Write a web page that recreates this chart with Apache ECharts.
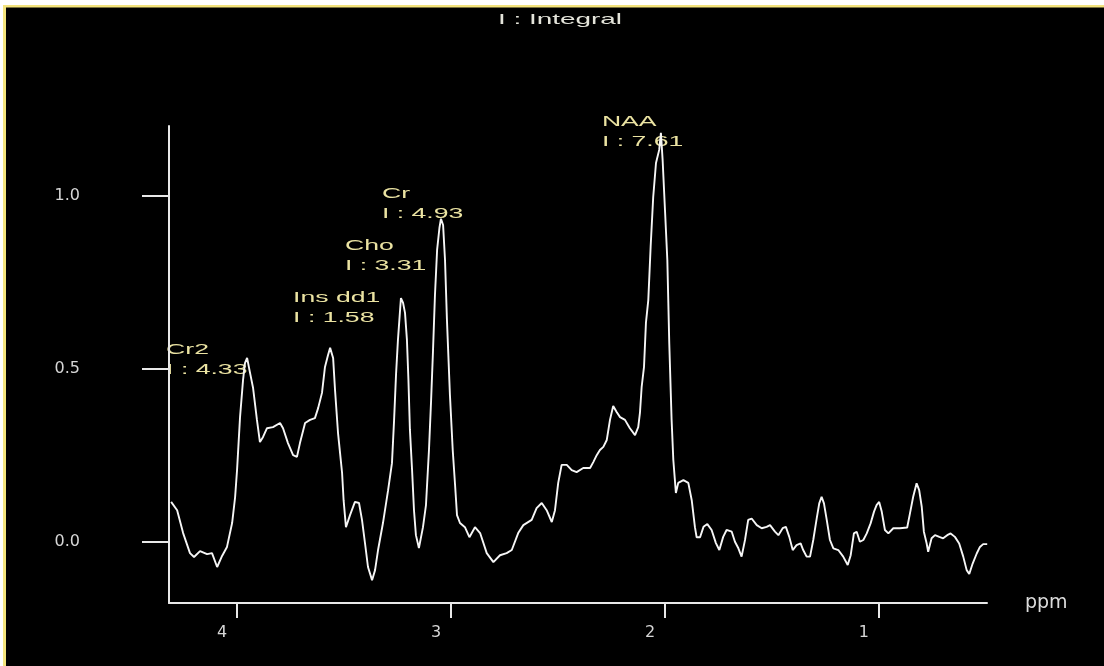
<!DOCTYPE html>
<html>
<head>
<meta charset="utf-8">
<title>MR spectrum</title>
<script src="https://cdn.jsdelivr.net/npm/echarts@6/dist/echarts.min.js"></script>
<style>
  html, body { margin: 0; padding: 0; background: #000; }
  #chart { width: 1104px; height: 666px; }
</style>
</head>
<body>
<div id="chart"></div>
<script>
// Chemical shift of each sample (ppm, descending)
const ppm = [
  4.308, 4.280, 4.252, 4.220, 4.201, 4.173, 4.140, 4.117, 4.093, 4.070,
  4.047, 4.023, 4.009, 4.000, 3.986, 3.972, 3.963, 3.953, 3.939, 3.925,
  3.907, 3.893, 3.879, 3.860, 3.832, 3.799, 3.785, 3.762, 3.738, 3.720,
  3.706, 3.682, 3.659, 3.636, 3.621, 3.603, 3.589, 3.575, 3.565, 3.551,
  3.542, 3.528, 3.509, 3.502, 3.491, 3.472, 3.449, 3.430, 3.416, 3.402,
  3.388, 3.369, 3.355, 3.341, 3.318, 3.294, 3.276, 3.266, 3.257, 3.248,
  3.238, 3.234, 3.224, 3.215, 3.206, 3.199, 3.192, 3.182, 3.173, 3.164,
  3.150, 3.131, 3.117, 3.103, 3.093, 3.084, 3.075, 3.065, 3.054, 3.047,
  3.037, 3.028, 3.019, 3.005, 2.992, 2.981, 2.972, 2.958, 2.935, 2.914,
  2.888, 2.864, 2.833, 2.802, 2.771, 2.740, 2.716, 2.686, 2.662, 2.623,
  2.600, 2.576, 2.553, 2.529, 2.514, 2.499, 2.483, 2.459, 2.436, 2.413,
  2.382, 2.350, 2.335, 2.319, 2.304, 2.288, 2.272, 2.257, 2.242, 2.226,
  2.210, 2.187, 2.164, 2.140, 2.125, 2.117, 2.109, 2.098, 2.089, 2.078,
  2.067, 2.055, 2.042, 2.027, 2.019, 2.011, 2.000, 1.989, 1.980, 1.969,
  1.961, 1.949, 1.938, 1.914, 1.891, 1.875, 1.860, 1.852, 1.836,
  1.820, 1.802, 1.782, 1.762, 1.746, 1.728, 1.712, 1.688, 1.673, 1.657,
  1.642, 1.626, 1.611, 1.595, 1.571, 1.548, 1.525, 1.509, 1.486, 1.470,
  1.450, 1.435, 1.419, 1.403, 1.385, 1.366, 1.354, 1.338, 1.322, 1.307,
  1.291, 1.279, 1.268, 1.257, 1.244, 1.229, 1.213, 1.190, 1.167, 1.146,
  1.132, 1.117, 1.104, 1.089, 1.073, 1.057, 1.039, 1.023, 1.011, 0.999,
  0.987, 0.972, 0.956, 0.933, 0.902, 0.868, 0.855, 0.840, 0.824, 0.812,
  0.800, 0.790, 0.777, 0.770, 0.754, 0.738, 0.718, 0.700, 0.681, 0.665,
  0.645, 0.625, 0.606, 0.590, 0.578, 0.562, 0.543, 0.528, 0.513, 0.494
];

// Signal intensity at each sample
const intensity = [
  0.116, 0.092, 0.026, -0.032, -0.043, -0.026, -0.035, -0.032, -0.072, -0.040,
  -0.014, 0.055, 0.130, 0.208, 0.361, 0.468, 0.517, 0.532, 0.488, 0.445,
  0.353, 0.289, 0.303, 0.329, 0.332, 0.344, 0.329, 0.286, 0.251, 0.246,
  0.286, 0.344, 0.353, 0.358, 0.387, 0.431, 0.506, 0.540, 0.561, 0.532,
  0.439, 0.315, 0.199, 0.121, 0.043, 0.078, 0.116, 0.113, 0.064, -0.003,
  -0.072, -0.110, -0.081, -0.023, 0.055, 0.150, 0.228, 0.353, 0.483, 0.584,
  0.671, 0.705, 0.691, 0.662, 0.584, 0.468, 0.324, 0.208, 0.092, 0.020,
  -0.017, 0.043, 0.107, 0.266, 0.410, 0.555, 0.714, 0.844, 0.908, 0.934,
  0.916, 0.815, 0.642, 0.425, 0.266, 0.165, 0.078, 0.055, 0.043, 0.014,
  0.043, 0.026, -0.032, -0.058, -0.038, -0.032, -0.023, 0.026, 0.049, 0.064,
  0.098, 0.113, 0.092, 0.058, 0.092, 0.171, 0.223, 0.223, 0.208, 0.202,
  0.214, 0.214, 0.231, 0.251, 0.266, 0.275, 0.295, 0.353, 0.393, 0.376,
  0.361, 0.353, 0.329, 0.309, 0.332, 0.373, 0.448, 0.506, 0.633, 0.699,
  0.853, 0.997, 1.095, 1.133, 1.182, 1.104, 0.960, 0.815, 0.575, 0.353,
  0.237, 0.142, 0.171, 0.179, 0.171, 0.121, 0.043, 0.014, 0.014,
  0.044, 0.052, 0.035, -0.003, -0.023, 0.015, 0.035, 0.030, 0.001, -0.018,
  -0.042, 0.006, 0.064, 0.068, 0.049, 0.040, 0.044, 0.049, 0.030, 0.020,
  0.040, 0.044, 0.015, -0.023, -0.009, -0.004, -0.023, -0.042, -0.042, 0.006,
  0.068, 0.112, 0.131, 0.112, 0.064, 0.006, -0.018, -0.023, -0.042, -0.066,
  -0.038, 0.025, 0.030, 0.001, 0.006, 0.025, 0.054, 0.088, 0.107, 0.116,
  0.088, 0.035, 0.025, 0.040, 0.040, 0.042, 0.083, 0.131, 0.170, 0.150,
  0.102, 0.030, -0.004, -0.028, 0.011, 0.020, 0.015, 0.011, 0.020, 0.025,
  0.015, -0.004, -0.042, -0.081, -0.092, -0.062, -0.033, -0.014, -0.006, -0.006
];

// Axis ticks
const xTicks = [1, 2, 3, 4];
const yTicks = [0, 0.5, 1.0];

// Metabolite peaks: name, nominal apex position, integral
const peakNames = ['Cr2', 'Ins dd1', 'Cho', 'Cr', 'NAA'];
const peakPpm = [3.953, 3.565, 3.234, 3.047, 2.019];
const peakIntegrals = ['4.33', '1.58', '3.31', '4.93', '7.61'];

const headerText = 'I : Integral';
const axisUnit = 'ppm';

// ---- styling / layout ----
const labelOffsets = [[-81, -8], [-37, -50], [-56, -52], [-59, -25], [-59, -11]];
const axisColor = '#e8e8e8';
const tickLabelColor = '#d6d6d6';
const noteColor = '#ebe3a2';
const frameYellow = '#f3e37c';
const noteFont = '14px "Liberation Sans", Arial, sans-serif';
const stretch = 1.9;

const data = ppm.map((p, i) => [p, intensity[i]]);

const chart = echarts.init(document.getElementById('chart'), null, { renderer: 'canvas' });

chart.setOption({
  backgroundColor: '#000',
  animation: false,
  grid: { left: 169, right: 117, top: 126, bottom: 63, containLabel: false },
  xAxis: {
    type: 'value',
    inverse: true,
    min: 0.495,
    max: 4.318,
    name: axisUnit,
    nameLocation: 'start',
    nameGap: 38,
    nameTextStyle: { color: '#dcdcdc', fontSize: 19, fontFamily: 'DejaVu Sans', verticalAlign: 'middle' },
    axisLine: { show: true, onZero: false, lineStyle: { color: axisColor, width: 2 } },
    axisTick: { show: true, length: 15, customValues: xTicks, lineStyle: { color: axisColor, width: 2 } },
    axisLabel: {
      customValues: xTicks,
      margin: 22,
      color: tickLabelColor,
      fontSize: 16,
      fontFamily: 'DejaVu Sans',
      padding: [0, 30, 0, 0],
      formatter: v => String(v)
    },
    splitLine: { show: false }
  },
  yAxis: {
    type: 'value',
    min: -0.176,
    max: 1.202,
    axisLine: { show: true, onZero: false, lineStyle: { color: axisColor, width: 2 } },
    axisTick: { show: true, length: 27, customValues: yTicks, lineStyle: { color: axisColor, width: 2 } },
    axisLabel: {
      customValues: yTicks,
      margin: 89,
      color: tickLabelColor,
      fontSize: 16,
      fontFamily: 'DejaVu Sans',
      formatter: v => v.toFixed(1)
    },
    splitLine: { show: false }
  },
  series: [{
    type: 'line',
    data: data,
    symbol: 'none',
    showSymbol: false,
    silent: true,
    lineStyle: { color: '#f6f6f6', width: 1.9 }
  }]
});

// Frame, header and peak annotations
const gfx = [
  { type: 'rect', silent: true, shape: { x: 0, y: 0, width: 1104, height: 5 }, style: { fill: '#ffffff' } },
  { type: 'rect', silent: true, shape: { x: 0, y: 0, width: 3, height: 666 }, style: { fill: '#ffffff' } },
  { type: 'rect', silent: true, shape: { x: 3, y: 5, width: 1101, height: 2.5 }, style: { fill: frameYellow } },
  { type: 'rect', silent: true, shape: { x: 3, y: 5, width: 3, height: 661 }, style: { fill: frameYellow } },
  {
    type: 'text', silent: true, x: 498, y: 20, scaleX: 1.86,
    style: { text: headerText, font: '15px "Liberation Sans", Arial, sans-serif', fill: '#e4e4da',
             verticalAlign: 'middle', textVerticalAlign: 'middle' }
  }
];

peakNames.forEach((name, k) => {
  // apex = highest sample close to the nominal position
  let best = -1;
  ppm.forEach((p, i) => {
    if (Math.abs(p - peakPpm[k]) < 0.02 && (best < 0 || intensity[i] > intensity[best])) best = i;
  });
  const pt = chart.convertToPixel({ gridIndex: 0 }, [ppm[best], intensity[best]]);
  const dx = labelOffsets[k][0], dy = labelOffsets[k][1];
  gfx.push({
    type: 'text', silent: true, x: pt[0] + dx, y: pt[1] + dy, scaleX: stretch,
    style: { text: name, font: noteFont, fill: noteColor, verticalAlign: 'middle', textVerticalAlign: 'middle' }
  });
  gfx.push({
    type: 'text', silent: true, x: pt[0] + dx, y: pt[1] + dy + 20.5, scaleX: stretch,
    style: { text: 'I : ' + peakIntegrals[k], font: noteFont, fill: noteColor, verticalAlign: 'middle', textVerticalAlign: 'middle' }
  });
});

chart.setOption({ graphic: gfx });
</script>
</body>
</html>
